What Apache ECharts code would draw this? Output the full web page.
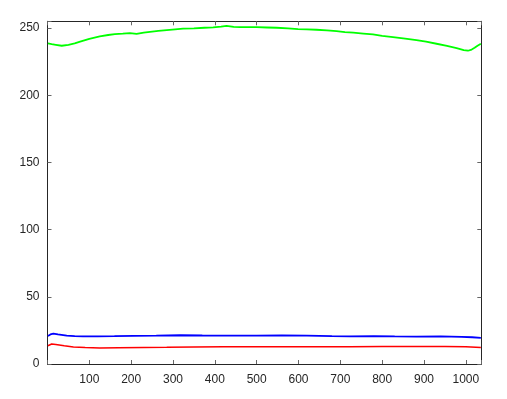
<!DOCTYPE html>
<html>
<head>
<meta charset="utf-8">
<script src="https://cdn.jsdelivr.net/npm/echarts@6/dist/echarts.min.js"></script>
<style>html,body{margin:0;padding:0;background:#fff}#c{width:507px;height:399px}</style>
</head>
<body>
<div id="c"></div>
<script>
const greenX = [1,10,20,34,50,65,78,100,125,145,161,180,197,213,230,245,265,285,305,324,350,375,396,415,428,445,460,476,500,525,548,575,599,620,643,668,691,711,731,755,778,800,826,855,882,905,930,955,978,995,1005,1014,1021,1028,1036];
const greenY = [238.5,238,237.5,236.8,237.5,238.5,239.8,242,243.8,244.8,245.5,245.8,246.2,245.6,246.5,247.2,247.8,248.4,249,249.5,249.8,250.2,250.5,251,251.6,250.8,250.6,250.7,250.6,250.4,250.2,249.7,249.2,249,248.7,248.2,247.7,247,246.5,245.9,245.3,244.2,243.2,242.1,241,239.9,238.3,236.7,235,233.6,233.1,234,235.3,236.8,238.3];
const blueX = [1,7,14,25,46,65,85,120,160,205,260,317,370,430,500,560,620,680,723,780,830,882,940,990,1015,1036];
const blueY = [20.9,22,22.6,22,21.1,20.8,20.6,20.6,20.7,20.9,21.1,21.4,21.2,21.1,21.1,21.3,21.1,20.8,20.6,20.7,20.5,20.4,20.5,20.2,19.9,19.4];
const redX = [1,5,10,20,40,62,90,125,170,230,285,350,420,500,580,650,723,800,882,950,1000,1036];
const redY = [13.6,14.5,14.9,14.5,13.6,12.7,12.2,11.9,12.1,12.3,12.4,12.6,12.8,12.9,12.9,12.9,12.9,13,13.1,13,12.8,12.2];
const xTickStep = 100;
const yTickStep = 50;

const pairs = (xs, ys) => xs.map((x, i) => [x, ys[i]]);
const chart = echarts.init(document.getElementById('c'), null, {renderer: 'canvas'});
const font = {fontFamily: 'Liberation Sans, Arial, sans-serif', fontSize: 12, color: '#262626'};
const axisLine = {show: true, onZero: false, lineStyle: {color: '#262626', width: 1}};
const tick = {show: true, inside: true, length: 4, lineStyle: {color: '#666', width: 1}};
chart.setOption({
  animation: false,
  backgroundColor: '#fff',
  grid: {left: 47.5, right: 25.7, top: 21.3, bottom: 35, containLabel: false},
  xAxis: [
    {type: 'value', min: 0, max: 1037, interval: xTickStep, position: 'bottom',
     axisLine: axisLine, axisTick: tick, splitLine: {show: false},
     axisLabel: Object.assign({margin: 10, formatter: v => (v > 0 && v % 100 === 0) ? String(v) : ''}, font)},
    {type: 'value', min: 0, max: 1037, interval: xTickStep, position: 'top',
     axisLine: axisLine, axisTick: tick, splitLine: {show: false},
     axisLabel: {show: false}}
  ],
  yAxis: [
    {type: 'value', min: 0, max: 255, interval: yTickStep, position: 'left',
     axisLine: axisLine, axisTick: tick, splitLine: {show: false},
     axisLabel: Object.assign({margin: 8, formatter: v => (v % 50 === 0) ? String(v) : ''}, font)},
    {type: 'value', min: 0, max: 255, interval: yTickStep, position: 'right',
     axisLine: axisLine, axisTick: tick, splitLine: {show: false},
     axisLabel: {show: false}}
  ],
  series: [
    {type: 'line', data: pairs(redX, redY), showSymbol: false, lineStyle: {color: '#ff0000', width: 1.5}},
    {type: 'line', data: pairs(greenX, greenY), showSymbol: false, lineStyle: {color: '#00ff00', width: 1.8}},
    {type: 'line', data: pairs(blueX, blueY), showSymbol: false, lineStyle: {color: '#0000ff', width: 1.8}}
  ]
});
</script>
</body>
</html>
